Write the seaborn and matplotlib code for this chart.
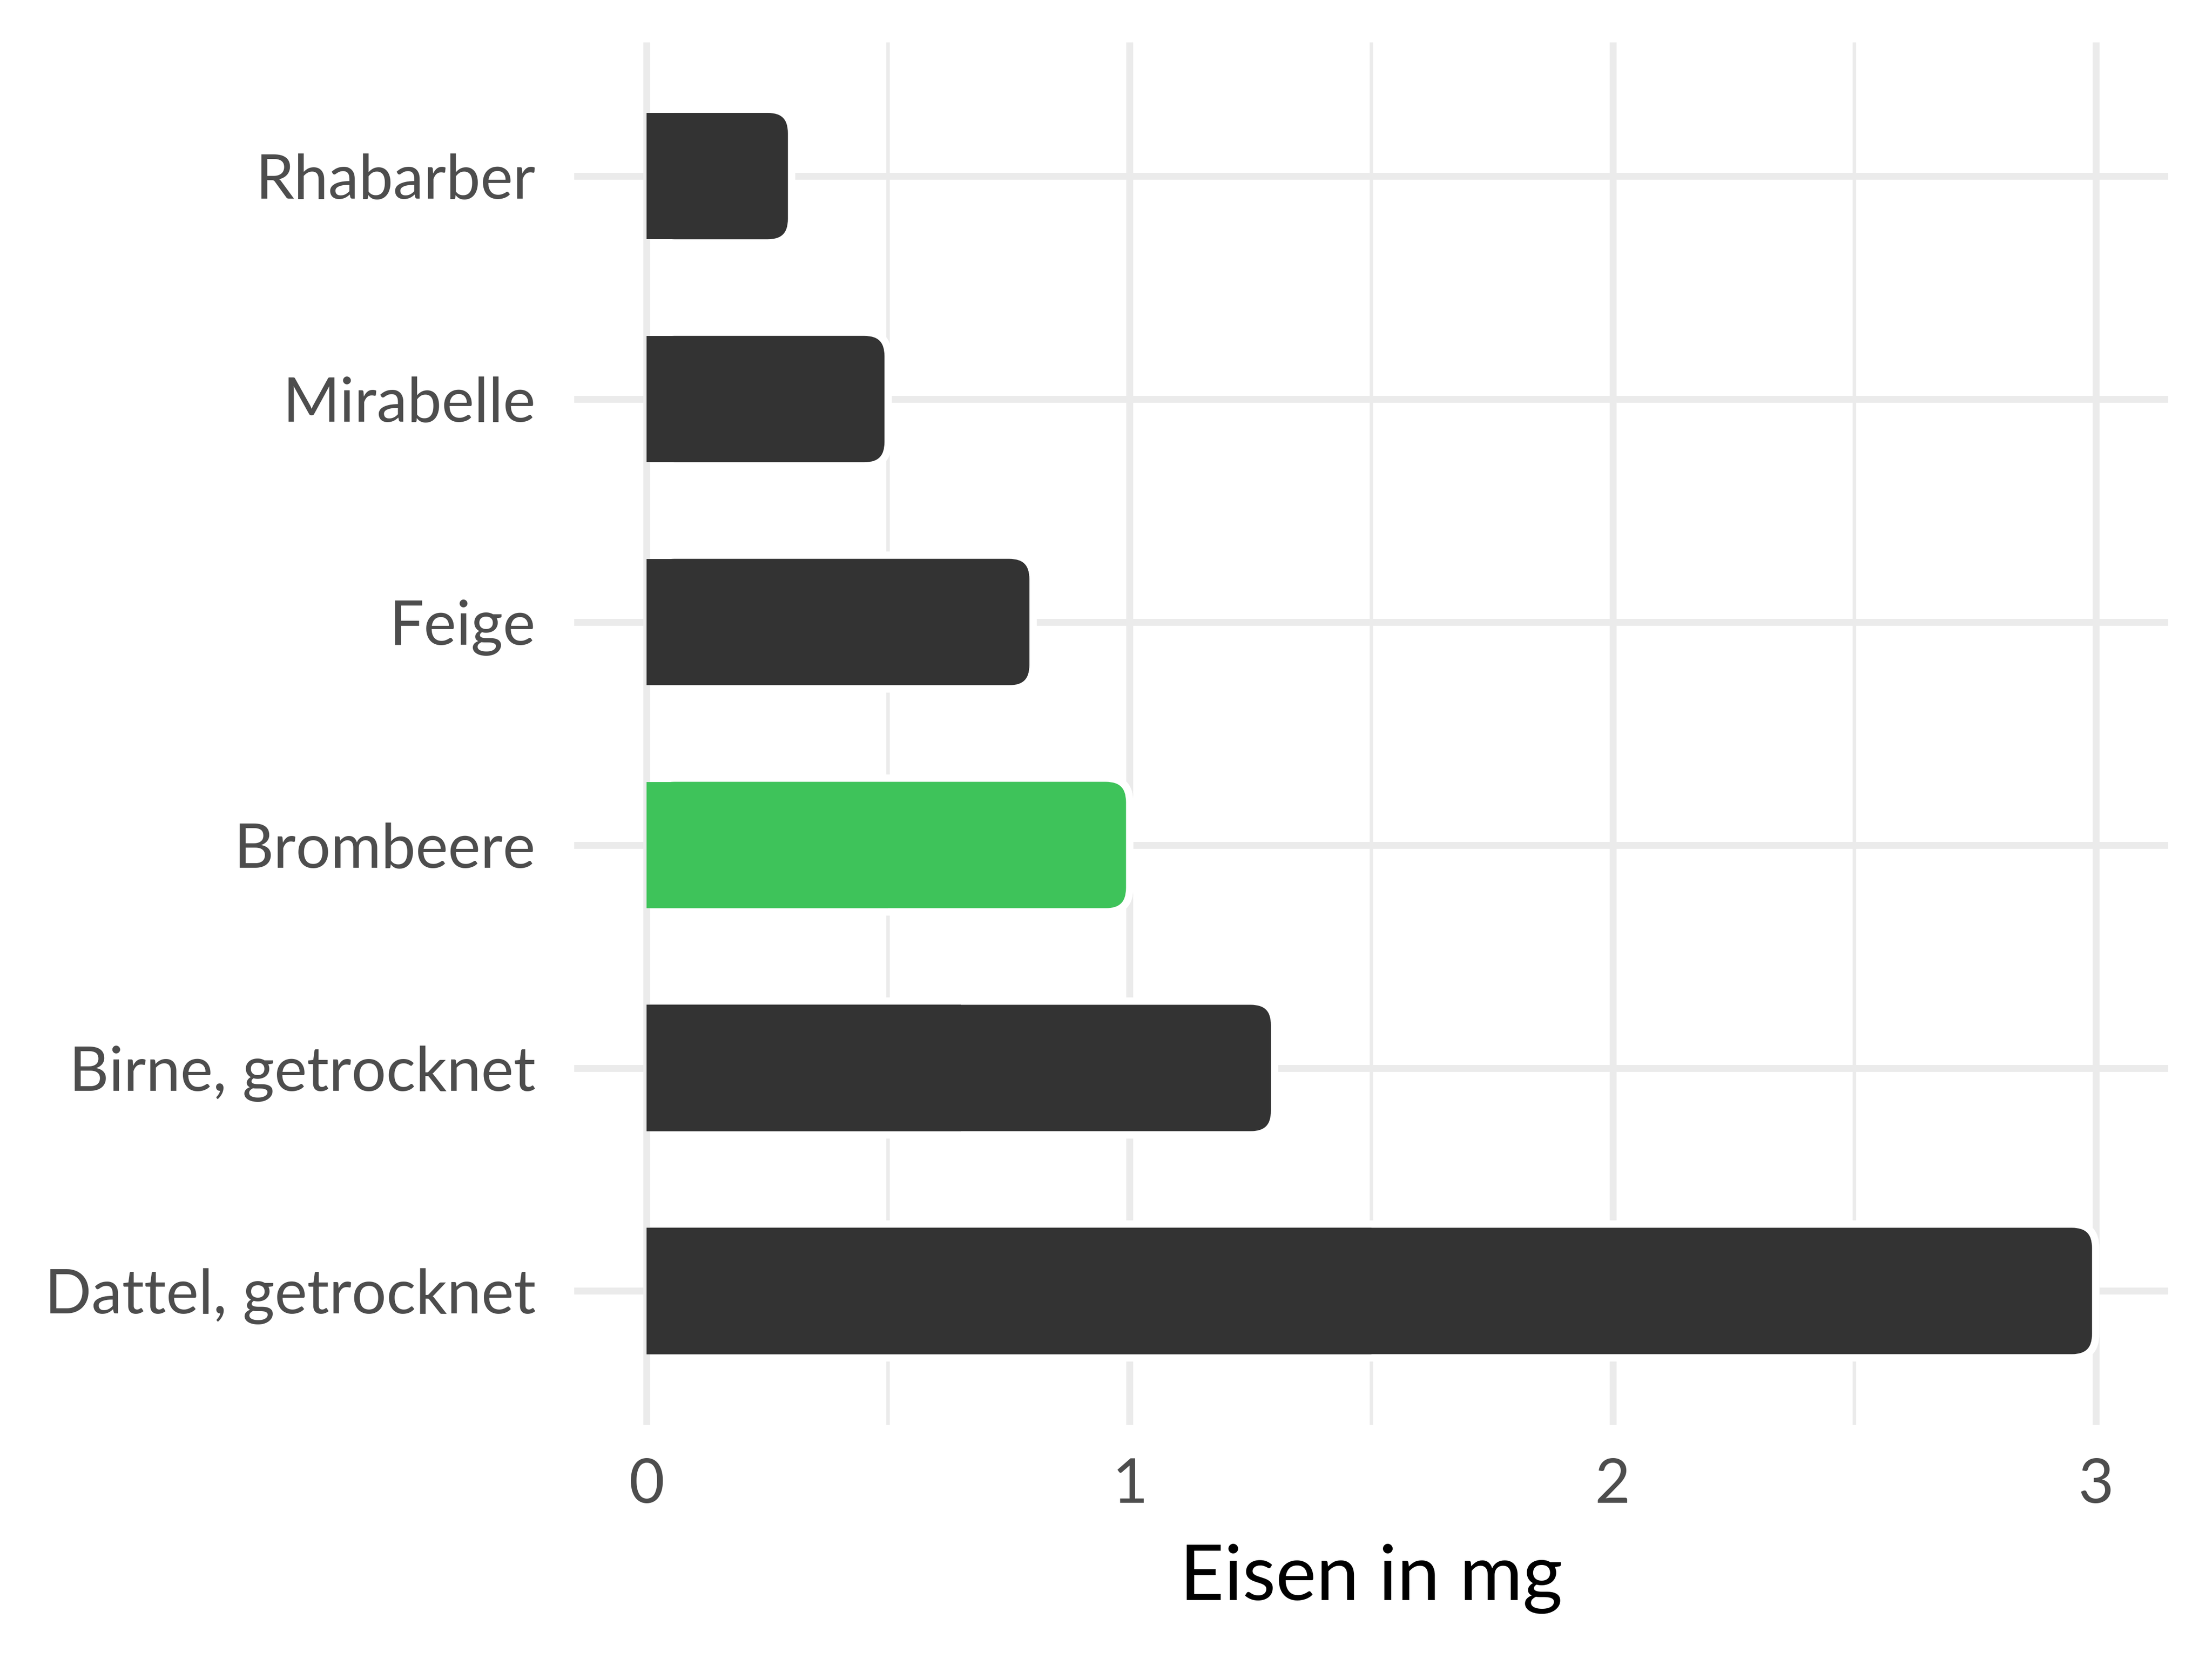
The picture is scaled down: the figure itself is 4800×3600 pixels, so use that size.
import matplotlib
matplotlib.use("Agg")
import matplotlib.pyplot as plt
from matplotlib.patches import FancyBboxPatch, Rectangle
import seaborn as sns
import pandas as pd

categories = ["Rhabarber", "Mirabelle", "Feige", "Brombeere",
              "Birne, getrocknet", "Dattel, getrocknet"]
values = [0.3, 0.5, 0.8, 1.0, 1.3, 3.0]
highlight = "Brombeere"
x_label = "Eisen in mg"
x_ticks = [0, 1, 2, 3]
x_minor = [0.5, 1.5, 2.5]

DARK = "#333333"
GREEN = "#3EC35A"
GRID = "#EBEBEB"
TXT = "#4D4D4D"

df = pd.DataFrame({"cat": categories, "val": values})
palette = {c: (GREEN if c == highlight else DARK) for c in categories}

sns.set_theme(style="white")
plt.rcParams["font.family"] = ["Lato", "DejaVu Sans"]

fig = plt.figure(figsize=(16, 12), dpi=300)
ax = fig.add_axes([0.2596, 0.1412, 0.9802 - 0.2596, 0.9745 - 0.1412])
sns.barplot(data=df, y="cat", x="val", hue="cat", palette=palette,
            order=categories, hue_order=categories, orient="h",
            width=0.6, legend=False, ax=ax, saturation=1)

ax.set_xlim(-0.15, 3.15)
ax.set_ylim(5.6, -0.6)

# replace bars with rounded versions (right side rounded)
px_x = 1051.0  # px per x unit
px_y = 483.7   # px per y unit
r_px = 52
lw_px = 16
rx = r_px / px_x
aspect = (r_px / px_y) / rx
ex = (lw_px / 2) / px_x
ey = (lw_px / 2) / px_y
for p in list(ax.patches):
    x0, y0, w, h = p.get_x(), p.get_y(), p.get_width(), p.get_height()
    fc = p.get_facecolor()
    p.remove()
    fb = FancyBboxPatch((x0 + ex, y0), w - ex, h,
                        boxstyle=f"round,pad=0,rounding_size={rx}",
                        mutation_aspect=aspect, facecolor=fc,
                        edgecolor="white", linewidth=lw_px * 72 / 300,
                        zorder=3)
    ax.add_patch(fb)
    sq = Rectangle((x0, y0 + ey), min(w / 2, w - rx), h - 2 * ey,
                   facecolor=fc, edgecolor="none", zorder=4)
    ax.add_patch(sq)

ax.set_xticks(x_ticks)
ax.set_xticklabels([str(t) for t in x_ticks])
ax.set_xticks(x_minor, minor=True)
ax.set_axisbelow(True)
ax.grid(which="major", axis="both", color=GRID, linewidth=3.6)
ax.grid(which="minor", axis="x", color=GRID, linewidth=1.8)
for s in ax.spines.values():
    s.set_visible(False)
ax.tick_params(axis="both", which="both", length=0)
ax.tick_params(axis="y", labelsize=32, labelcolor=TXT, pad=20)
ax.tick_params(axis="x", labelsize=32, labelcolor=TXT, pad=17)
ax.set_ylabel("")
ax.set_xlabel(x_label, fontsize=40, color="black", labelpad=16)

fig.savefig("out.png", dpi=300, facecolor="white")
